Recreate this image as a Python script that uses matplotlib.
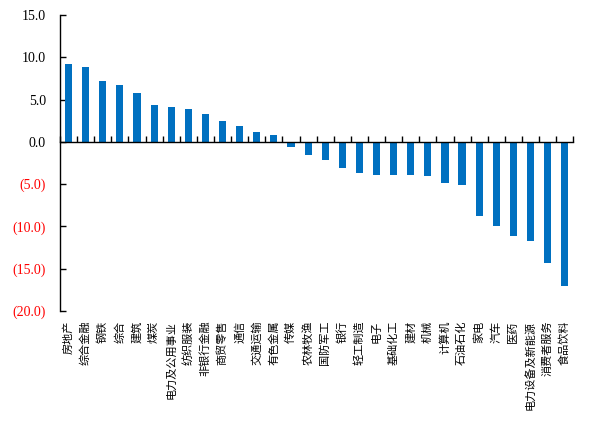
import matplotlib
matplotlib.use("Agg")
import matplotlib.pyplot as plt
import numpy as np

categories = ["房地产", "综合金融", "钢铁", "综合", "建筑", "煤炭", "电力及公用事业", "纺织服装",
              "非银行金融", "商贸零售", "通信", "交通运输", "有色金属", "传媒", "农林牧渔", "国防军工",
              "银行", "轻工制造", "电子", "基础化工", "建材", "机械", "计算机", "石油石化", "家电",
              "汽车", "医药", "电力设备及新能源", "消费者服务", "食品饮料"]
values = [9.2, 8.8, 7.2, 6.7, 5.8, 4.4, 4.1, 3.9, 3.35, 2.5, 1.9, 1.2, 0.8, -0.6, -1.6, -2.2,
          -3.1, -3.7, -3.9, -3.95, -3.95, -4.0, -4.9, -5.1, -8.8, -10.0, -11.1, -11.7, -14.3, -17.1]
yticks = [15, 10, 5, 0, -5, -10, -15, -20]
ytick_labels = ["15.0", "10.0", "5.0", "0.0", "(5.0)", "(10.0)", "(15.0)", "(20.0)"]

fig = plt.figure(figsize=(6.07, 4.38), dpi=100)
ax = fig.add_axes([60/607, 1-311/438, (573.3-60)/607, (311-15)/438])

n = len(categories)
x = np.arange(n)
ax.bar(x, values, width=0.42, color="#0070C0", zorder=3)

ax.set_xlim(-0.5, n-0.5)
ax.set_ylim(-20, 15)
ax.set_yticks(yticks)
ax.set_yticklabels(ytick_labels, family="Liberation Serif", fontsize=10)
for lbl, v in zip(ax.get_yticklabels(), yticks):
    lbl.set_color("#FF0000" if v < 0 else "black")
ax.tick_params(axis="y", direction="in", length=4, width=1, pad=10)

for s in ["top", "right"]:
    ax.spines[s].set_visible(False)
ax.spines["left"].set_linewidth(1.0)
ax.spines["bottom"].set_position(("data", 0))
ax.spines["bottom"].set_linewidth(1.0)
ax.spines["bottom"].set_zorder(4)
ax.set_xticks(np.arange(n+1) - 0.5)
ax.set_xticklabels([])
ax.tick_params(axis="x", direction="in", length=4, width=1)

sec = ax.secondary_xaxis(0.0)
sec.set_xticks(x)
sec.set_xticklabels(categories, rotation=90, family=["Noto Sans CJK SC"], fontsize=8)
sec.tick_params(length=0, pad=7)
sec.spines["bottom"].set_visible(False)

fig.savefig("out.png", dpi=100)
